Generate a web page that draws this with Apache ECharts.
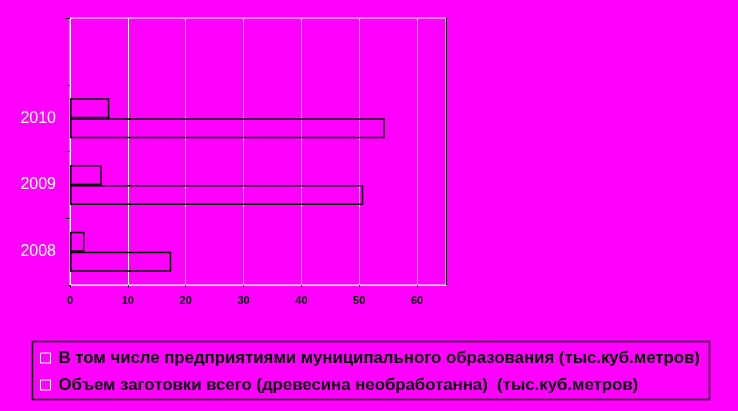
<!DOCTYPE html>
<html><head><meta charset="utf-8">
<script src="https://cdn.jsdelivr.net/npm/echarts@6/dist/echarts.min.js"></script>
<style>html,body{margin:0;padding:0;background:#ff00ff}#c{width:738px;height:411px}</style>
</head><body><div id="c"></div>
<script>
var categories = ['2008', '2009', '2010', ''];
var totalName = 'Объем заготовки всего (древесина необработанна)  (тыс.куб.метров)';
var municipalName = 'В том числе предприятиями муниципального образования (тыс.куб.метров)';
var totalValues = [17.5, 50.7, 54.4, null];
var municipalValues = [2.5, 5.5, 6.8, null];
var xTicks = [0, 10, 20, 30, 40, 50, 60];

var chart = echarts.init(document.getElementById('c'), null, {renderer: 'canvas'});
var barStyle = {color: 'rgba(255,0,255,0)', borderColor: '#000', borderWidth: 1.5};
chart.setOption({
  backgroundColor: '#ff00ff',
  animation: false,
  grid: {left: 70, right: 292, top: 18, bottom: 126, show: true, borderColor: '#fff', borderWidth: 1, backgroundColor: 'transparent'},
  xAxis: {
    type: 'value', min: 0, max: 65, interval: 10,
    axisLine: {show: true, lineStyle: {color: '#fff', width: 1}},
    axisTick: {show: true, length: 3, lineStyle: {color: '#000'}},
    axisLabel: {
      showMaxLabel: false, margin: 10, color: '#000', fontSize: 11, fontWeight: 'bold',
      fontFamily: 'Liberation Sans',
      textShadowColor: '#fff', textShadowOffsetX: -1, textShadowOffsetY: -1, textShadowBlur: 0,
      formatter: function (v) { return xTicks.indexOf(v) >= 0 ? String(v) : ''; }
    },
    splitLine: {show: true, lineStyle: {color: ['#fff', '#fff', '#ffe080', '#ffe080', '#ffe080', '#ffe080', '#ffe080', '#000'], width: 1}}
  },
  yAxis: {
    type: 'category', data: categories, boundaryGap: true,
    axisLine: {show: true, lineStyle: {color: '#fff'}},
    axisTick: {show: true, length: 5, lineStyle: {color: '#222'}},
    axisLabel: {color: '#fff', fontSize: 16, fontFamily: 'Liberation Sans', margin: 14},
    splitLine: {show: false}
  },
  legend: {
    orient: 'vertical', left: 40, top: 349, itemWidth: 10, itemHeight: 10, itemGap: 9, padding: 0,
    icon: 'rect',
    data: [municipalName, totalName],
    textStyle: {color: '#000', fontSize: 16.8, fontWeight: 'bold', fontFamily: 'Liberation Sans', height: 18, lineHeight: 18,
      padding: [0, 0, 0, 3],
      textShadowColor: '#fff', textShadowOffsetX: -1, textShadowOffsetY: -1, textShadowBlur: 0},
    itemStyle: {color: 'rgba(0,0,0,0)', borderColor: '#fff', borderWidth: 1}
  },
  graphic: [{type: 'rect', left: 30, top: 339, shape: {width: 677, height: 58}, style: {fill: 'none', stroke: '#000', lineWidth: 1.5}}],
  series: [
    {name: municipalName, type: 'bar', data: municipalValues, barWidth: 20, barGap: '0%', itemStyle: barStyle},
    {name: totalName, type: 'bar', data: totalValues, barWidth: 20, barGap: '0%', itemStyle: barStyle}
  ]
});
</script></body></html>
